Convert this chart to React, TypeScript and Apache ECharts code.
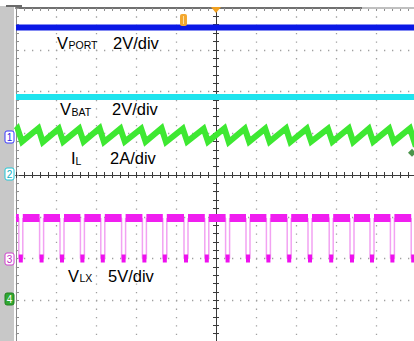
import React, { useEffect, useRef } from 'react';
import * as echarts from 'echarts';

// Time axis in divisions relative to screen centre (-5..5), amplitude in divisions (-4..4)
const pulseTimes = [-4.93, -4.41, -3.9, -3.39, -2.88, -2.36, -1.84, -1.33, -0.8, -0.28, 0.24, 0.75, 1.26, 1.78, 2.3, 2.83, 3.35, 3.85, 4.36, 4.88];
const pulseWidth = 0.1;
const vlxHigh = -1.03;
const vlxLow = -2.0;
const ilPeaks = [1.11, 1.12, 1.11, 1.11, 1.12, 1.11, 1.11, 1.12, 1.11, 1.11, 1.12, 1.11, 1.11, 1.12, 1.11, 1.11, 1.12, 1.11, 1.11, 1.12];
const ilTroughs = [0.8, 0.79, 0.8, 0.8, 0.79, 0.8, 0.8, 0.79, 0.8, 0.8, 0.79, 0.8, 0.8, 0.79, 0.8, 0.8, 0.79, 0.8, 0.8, 0.79];
const ilStart = 1.07;
const ilEnd = 0.83;
const vportLevel = 3.53;
const vbatLevel = 1.87;
const markerEnd = [[4.9, 0.53]];

const FONT = "'Liberation Sans', Arial, sans-serif";

function buildIL() {
  const d: any[] = [[-5, ilStart]];
  pulseTimes.forEach((t, i) => {
    d.push([t - 0.03, ilPeaks[i]]);
    d.push([t + 0.08, ilTroughs[i]]);
  });
  d.push([5, ilEnd]);
  return d;
}
function buildVlxEdges() {
  const d: any[] = [];
  pulseTimes.forEach((t) => {
    d.push([t, vlxHigh], [t, vlxLow], [t + pulseWidth, vlxLow], [t + pulseWidth, vlxHigh], [t + pulseWidth, '-']);
  });
  return d;
}
function buildVlxHigh() {
  const d: any[] = [[-5, vlxHigh]];
  pulseTimes.forEach((t) => {
    d.push([t, vlxHigh], [t, '-'], [t + pulseWidth, vlxHigh]);
  });
  d.push([5, vlxHigh]);
  return d;
}
function buildVlxLow() {
  const d: any[] = [];
  pulseTimes.forEach((t) => {
    d.push([t, vlxLow], [t + pulseWidth, vlxLow], [t + pulseWidth, '-']);
  });
  return d;
}

function chMarker(cy: number, n: string, stroke: string, fill: string, txt: string) {
  return {
    type: 'group',
    z: 100,
    children: [
      { type: 'rect', shape: { x: 5, y: cy - 6, width: 9, height: 12, r: 2 }, style: { fill, stroke, lineWidth: 1 } },
      { type: 'text', style: { text: n, x: 9.5, y: cy, align: 'center', verticalAlign: 'middle', font: `10px ${FONT}`, fill: txt } },
    ],
  };
}

function label(x: number, y: number, text: string, size: number) {
  return { type: 'text', z: 100, style: { text, x, y, verticalAlign: 'middle', font: `${size}px ${FONT}`, fill: '#000' } };
}

export default function App() {
  const ref = useRef<HTMLDivElement>(null);
  useEffect(() => {
    const chart = echarts.init(ref.current!, null, { renderer: 'svg' });
    const dot = '#a0a0a0';
    const centerAxisX = (inside: boolean, split: boolean) => ({
      type: 'value', min: -5, max: 5, interval: 1, position: 'bottom',
      axisLine: { show: true, onZero: true, onZeroAxisIndex: 0, lineStyle: { color: '#3a3a3a', width: 1 } },
      axisTick: { show: true, inside, length: 3, lineStyle: { color: '#3a3a3a' } },
      minorTick: { show: true, splitNumber: 5, length: 3, lineStyle: { color: '#3a3a3a' } },
      axisLabel: { show: false },
      splitLine: { show: split, lineStyle: { color: dot, width: 1.3, type: [1.3, 7.05] } },
    });
    const centerAxisY = (inside: boolean, split: boolean) => ({
      type: 'value', min: -4, max: 4, interval: 1, position: 'left',
      axisLine: { show: true, onZero: true, onZeroAxisIndex: 0, lineStyle: { color: '#3a3a3a', width: 1 } },
      axisTick: { show: true, inside, length: 3, lineStyle: { color: '#3a3a3a' } },
      minorTick: { show: true, splitNumber: 5, length: 3, lineStyle: { color: '#3a3a3a' } },
      axisLabel: { show: false },
      splitLine: { show: split, lineStyle: { color: dot, width: 1.3, type: [1.3, 6.7] } },
    });
    chart.setOption({
      animation: false,
      grid: { left: 16, top: 8, width: 400, height: 334, show: false },
      xAxis: [
        centerAxisX(true, true),
        centerAxisX(false, false),
        {
          type: 'value', min: -5, max: 5, interval: 1, position: 'top',
          axisLine: { show: true, onZero: false, lineStyle: { color: '#707070', width: 2 } },
          axisTick: { show: true, inside: true, length: 3, lineStyle: { color: '#909090' } },
          minorTick: { show: true, splitNumber: 5, length: 3, lineStyle: { color: '#909090' } },
          axisLabel: { show: false }, splitLine: { show: false },
        },
      ],
      yAxis: [
        centerAxisY(true, true),
        centerAxisY(false, false),
        {
          type: 'value', min: -4, max: 4, interval: 1, position: 'left',
          axisLine: { show: true, onZero: false, lineStyle: { color: '#8a8a8a', width: 1 } },
          axisTick: { show: true, inside: true, length: 3, lineStyle: { color: '#909090' } },
          minorTick: { show: true, splitNumber: 5, length: 3, lineStyle: { color: '#909090' } },
          axisLabel: { show: false }, splitLine: { show: false },
        },
      ],
      series: [
        { type: 'line', name: 'VPORT', data: [[-5, vportLevel], [5, vportLevel]], showSymbol: false, lineStyle: { color: '#0a18e6', width: 6 }, z: 3 },
        { type: 'line', name: 'VBAT', data: [[-5, vbatLevel], [5, vbatLevel]], showSymbol: false, lineStyle: { color: '#1ee4ee', width: 6 }, z: 3 },
        { type: 'line', name: 'IL', data: buildIL(), showSymbol: false, lineStyle: { color: '#3ee832', width: 6, join: 'miter' }, z: 3 },
        { type: 'line', name: 'VLX edges', data: buildVlxEdges(), showSymbol: false, connectNulls: false, lineStyle: { color: '#f2a2f2', width: 1.5 }, z: 3 },
        { type: 'line', name: 'VLX', data: buildVlxHigh(), showSymbol: false, connectNulls: false, lineStyle: { color: '#f01ef0', width: 8, cap: 'butt' }, z: 4 },
        { type: 'line', name: 'VLX low', data: buildVlxLow(), showSymbol: false, connectNulls: false, lineStyle: { color: '#ee10ee', width: 8, cap: 'butt' }, z: 4 },
        { type: 'scatter', name: 'end', data: markerEnd, symbol: 'diamond', symbolSize: 8, itemStyle: { color: '#1e7a1e' }, z: 5 },
      ],
      graphic: [
        { type: 'rect', z: -10, shape: { x: 0, y: 6, width: 14, height: 336 }, style: { fill: '#c8c8c8' } },
        { type: 'rect', z: -10, shape: { x: 6, y: 5, width: 16, height: 2 }, style: { fill: '#6a6a6a' } },
        { type: 'rect', z: 50, shape: { x: 362, y: 7, width: 60, height: 2 }, style: { fill: '#c0c0c0' } },
        { type: 'polygon', z: 100, shape: { points: [[211, 7], [221, 7], [216, 13]] }, style: { fill: '#f0a020' } },
        { type: 'rect', z: 100, shape: { x: 180, y: 14, width: 7, height: 12, r: 2 }, style: { fill: '#f4a830' } },
        { type: 'rect', z: 101, shape: { x: 183, y: 16, width: 1, height: 8 }, style: { fill: '#fde0a0' } },
        chMarker(137, '1', '#3a3aff', '#ffffff', '#2a2ae0'),
        chMarker(174, '2', '#20c8d8', '#ffffff', '#10b0c0'),
        chMarker(259, '3', '#d040d0', '#ffffff', '#c030c0'),
        chMarker(299, '4', '#208020', '#30a830', '#ffffff'),
        label(57, 42.5, 'V', 16.5),
        label(68.5, 45.3, 'PORT', 10.5),
        label(113, 42.5, '2V/div', 16.5),
        label(60, 108.5, 'V', 16.5),
        label(71.5, 112.3, 'BAT', 10.5),
        label(112, 108.5, '2V/div', 16.5),
        label(71, 157.5, 'I', 16.5),
        label(75.5, 161.3, 'L', 10.5),
        label(110, 157.5, '2A/div', 16.5),
        label(68, 275.5, 'V', 16.5),
        label(79.5, 278.3, 'LX', 10.5),
        label(108, 275.5, '5V/div', 16.5),
      ],
    });
    return () => chart.dispose();
  }, []);
  return (
    <div style={{ position: 'fixed', left: 0, top: 0, width: 414, height: 341, overflow: 'hidden', background: '#fff' }}>
      <div ref={ref} style={{ width: 416, height: 342 }} />
    </div>
  );
}
